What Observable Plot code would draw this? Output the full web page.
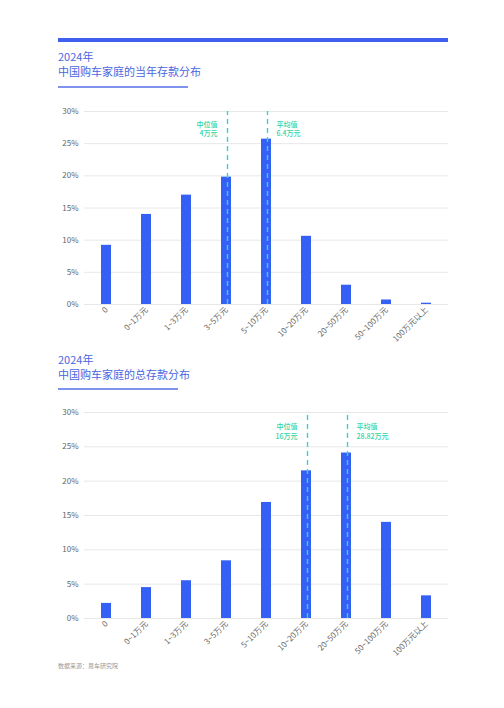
<!DOCTYPE html>
<html>
<head>
<meta charset="utf-8">
<script src="https://cdn.jsdelivr.net/npm/d3@7"></script>
<script src="https://cdn.jsdelivr.net/npm/@observablehq/plot@0.6"></script>
<style>
  body { margin: 0; background: #fff; font-family: "Noto Sans CJK SC", "Noto Sans", sans-serif; }
  #page { position: relative; width: 504px; height: 708px; }
  .topbar { position: absolute; left: 58px; top: 38px; width: 390px; height: 4px; background: #3f5ff0; }
  .title { position: absolute; left: 58px; color: #4a66e0; font-size: 11px; line-height: 15px; }
  .rule { position: absolute; left: 58px; height: 1.5px; background: #7f93ec; }
  .chart { position: absolute; left: 50px; }
  .caption { position: absolute; left: 58px; top: 661px; font-size: 6px; color: #999; }
</style>
</head>
<body>
<div id="page">
  <div class="topbar"></div>
  <div class="title" style="top:49px">2024年<br>中国购车家庭的当年存款分布</div>
  <div class="rule" style="top:86px; width:130px"></div>
  <div class="chart" id="chart1" style="top:100px"></div>
  <div class="title" style="top:352px">2024年<br>中国购车家庭的总存款分布</div>
  <div class="rule" style="top:388px; width:120px"></div>
  <div class="chart" id="chart2" style="top:401px"></div>
  <div class="caption">数据来源：易车研究院</div>
</div>
<script>
const categories = ["0", "0~1万元", "1~3万元", "3~5万元", "5~10万元", "10~20万元", "20~50万元", "50~100万元", "100万元以上"];

// 当年存款分布 (%)
const currentSavings = [9.2, 14.0, 17.0, 19.8, 25.7, 10.6, 3.0, 0.7, 0.2];
// 总存款分布 (%)
const totalSavings = [2.2, 4.5, 5.5, 8.4, 16.9, 21.5, 24.1, 14.0, 3.3];

const yTicks = [0, 5, 10, 15, 20, 25, 30];

// median / mean markers: category band they fall in + label
const currentMarkers = [
  { cat: "3~5万元", label: "中位值\n4万元", side: "left" },
  { cat: "5~10万元", label: "平均值\n6.4万元", side: "right" }
];
const totalMarkers = [
  { cat: "10~20万元", label: "中位值\n16万元", side: "left" },
  { cat: "20~50万元", label: "平均值\n28.82万元", side: "right" }
];

const BAR = "#3560f5";
const DASH = "#38d0d6";
const NOTE = "#2fd4a4";

function makeChart(values, markers, height, marginBottom) {
  const data = categories.map((c, i) => ({ cat: c, v: values[i] }));
  return Plot.plot({
    width: 398,
    height: height,
    marginTop: 11,
    marginLeft: 34,
    marginRight: 0,
    marginBottom: marginBottom,
    style: { fontFamily: "'Noto Sans CJK SC', sans-serif", fontSize: "8px", color: "#666", background: "transparent" },
    x: { domain: categories, paddingInner: 0.75, paddingOuter: 0.375, label: null },
    y: { domain: [0, 30], label: null, ticks: yTicks, tickFormat: d => d + "%" },
    marks: [
      Plot.gridY(yTicks, { stroke: "#e8e8e8", strokeOpacity: 1 }),
      Plot.barY(data, { x: "cat", y: "v", fill: BAR }),
      Plot.ruleX(markers, { x: "cat", dx: 1, y1: 0, y2: 30, stroke: DASH, strokeOpacity: 1, strokeWidth: 1.4, strokeDasharray: "5,4" }),
      Plot.text(markers.filter(m => m.side === "left"), {
        x: "cat", y: 27.3, text: "label", dx: -9, textAnchor: "end",
        fill: NOTE, fontSize: 7, lineHeight: 1.3, fontWeight: 500
      }),
      Plot.text(markers.filter(m => m.side === "right"), {
        x: "cat", y: 27.3, text: "label", dx: 10, textAnchor: "start",
        fill: NOTE, fontSize: 7, lineHeight: 1.3, fontWeight: 500
      }),
      Plot.axisY({ ticks: yTicks, tickFormat: d => d + "%", tickSize: 0, tickPadding: 6 }),
      Plot.axisX({ tickSize: 0, tickRotate: -45, tickPadding: 4, textAnchor: "end" })
    ]
  });
}

document.getElementById("chart1").append(makeChart(currentSavings, currentMarkers, 250, 46));
document.getElementById("chart2").append(makeChart(totalSavings, totalMarkers, 262, 45));
</script>
</body>
</html>
